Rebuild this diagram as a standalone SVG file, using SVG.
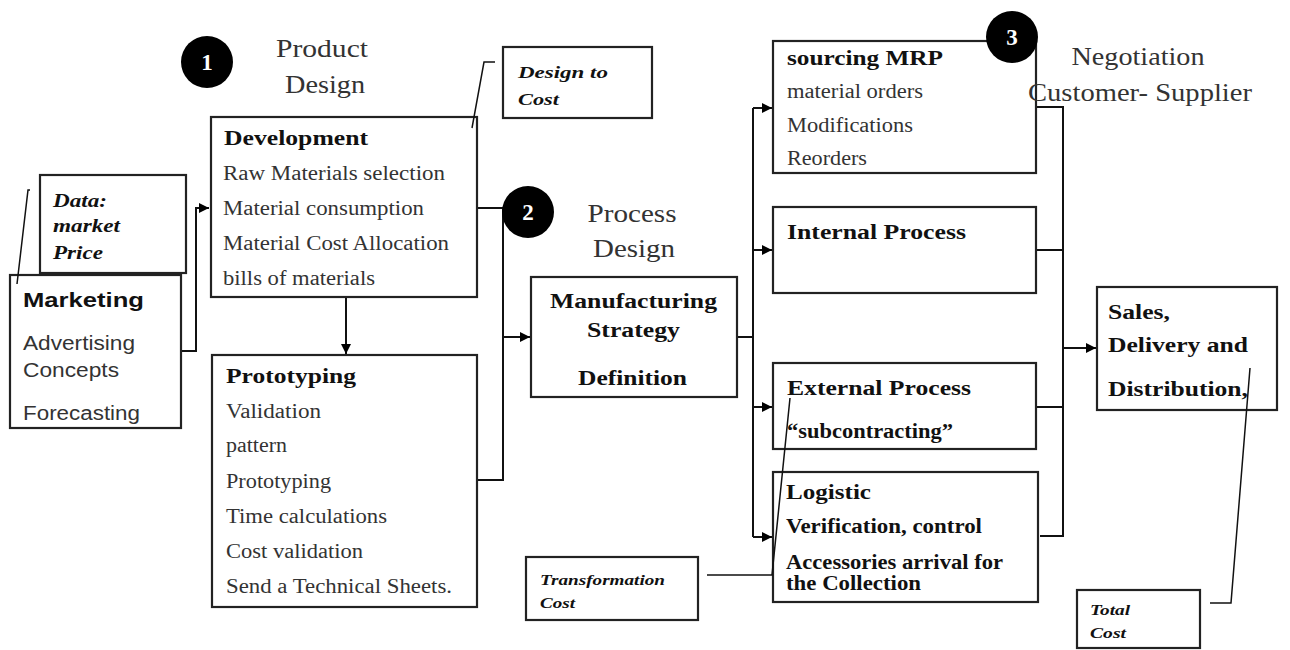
<svg xmlns="http://www.w3.org/2000/svg" width="1290" height="650" viewBox="0 0 1290 650">
<defs>
<marker id="ah" viewBox="0 0 10 10" refX="10" refY="5" markerWidth="5" markerHeight="5" orient="auto" markerUnits="strokeWidth"><path d="M0,0 L10,5 L0,10 z" fill="#000"/></marker>
<style>
.box{fill:#fff;stroke:#222;stroke-width:2.2}
.ln{fill:none;stroke:#111;stroke-width:2}
.cl{fill:none;stroke:#111;stroke-width:1.5}
.t{font-family:"Liberation Serif","Times New Roman",serif;font-size:20px;fill:#333}
.b{font-family:"Liberation Serif","Times New Roman",serif;font-size:20px;font-weight:bold;fill:#111}
.bi{font-family:"Liberation Serif","Times New Roman",serif;font-weight:bold;font-style:italic;fill:#111}
.h{font-family:"Liberation Serif","Times New Roman",serif;font-size:25px;fill:#333;text-anchor:middle}
.s{font-family:"Liberation Sans",Arial,sans-serif;font-size:20px;fill:#333}
.sb{font-family:"Liberation Sans",Arial,sans-serif;font-size:21px;font-weight:bold;fill:#111}
.num{font-family:"Liberation Serif","Times New Roman",serif;font-size:23px;font-weight:bold;fill:#fff;text-anchor:middle}
</style>
</defs>
<g id="connectors">
<polyline class="ln" points="182,351 196,351 196,208 209,208" marker-end="url(#ah)"/>
<line class="ln" x1="346" y1="297" x2="346" y2="354" marker-end="url(#ah)"/>
<polyline class="ln" points="477,208 503,208"/>
<polyline class="ln" points="477,480 503,480 503,208"/>
<line class="ln" x1="503" y1="337" x2="530" y2="337" marker-end="url(#ah)"/>
<polyline class="ln" points="737,337 753,337"/>
<line class="ln" x1="753" y1="108" x2="753" y2="537"/>
<line class="ln" x1="753" y1="108" x2="772" y2="108" marker-end="url(#ah)"/>
<line class="ln" x1="753" y1="250" x2="772" y2="250" marker-end="url(#ah)"/>
<line class="ln" x1="753" y1="407" x2="772" y2="407" marker-end="url(#ah)"/>
<line class="ln" x1="753" y1="537" x2="772" y2="537" marker-end="url(#ah)"/>
<polyline class="ln" points="1036,107 1063,107 1063,536 1040,536"/>
<line class="ln" x1="1036" y1="250" x2="1063" y2="250"/>
<line class="ln" x1="1036" y1="407" x2="1063" y2="407"/>
<line class="ln" x1="1063" y1="348" x2="1096" y2="348" marker-end="url(#ah)"/>
</g>
<g id="marketing">
<rect class="box" x="10" y="275" width="171" height="153"/>
<text class="sb" x="23" y="307" textLength="121" lengthAdjust="spacingAndGlyphs">Marketing</text>
<text class="s" x="23" y="350" textLength="112" lengthAdjust="spacingAndGlyphs">Advertising</text>
<text class="s" x="23" y="377" textLength="96" lengthAdjust="spacingAndGlyphs">Concepts</text>
<text class="s" x="23" y="420" textLength="117" lengthAdjust="spacingAndGlyphs">Forecasting</text>
</g>
<g id="data-market-price">
<rect class="box" x="40" y="175" width="146" height="98"/>
<text class="bi" font-size="18" x="53" y="207" textLength="54" lengthAdjust="spacingAndGlyphs">Data:</text>
<text class="bi" font-size="18" x="53" y="232" textLength="67" lengthAdjust="spacingAndGlyphs">market</text>
<text class="bi" font-size="18" x="53" y="259" textLength="50" lengthAdjust="spacingAndGlyphs">Price</text>
<polyline class="cl" points="30,190 28,190 17,284"/>
</g>
<g id="development">
<rect class="box" x="211" y="117" width="266" height="180"/>
<text class="b" x="224" y="145" textLength="144" lengthAdjust="spacingAndGlyphs">Development</text>
<text class="t" x="223" y="180" textLength="222" lengthAdjust="spacingAndGlyphs">Raw Materials selection</text>
<text class="t" x="223" y="215" textLength="201" lengthAdjust="spacingAndGlyphs">Material consumption</text>
<text class="t" x="223" y="250" textLength="226" lengthAdjust="spacingAndGlyphs">Material Cost Allocation</text>
<text class="t" x="223" y="285" textLength="152" lengthAdjust="spacingAndGlyphs">bills of materials</text>
</g>
<g id="product-design">
<circle cx="207" cy="62" r="26" fill="#000"/>
<text class="num" x="207" y="70">1</text>
<text class="h" x="322" y="57" textLength="92" lengthAdjust="spacingAndGlyphs">Product</text>
<text class="h" x="325" y="93" textLength="80" lengthAdjust="spacingAndGlyphs">Design</text>
</g>
<g id="design-to-cost">
<rect class="box" x="503" y="47" width="149" height="71"/>
<text class="bi" font-size="17" x="518" y="78" textLength="90" lengthAdjust="spacingAndGlyphs">Design to</text>
<text class="bi" font-size="17" x="518" y="105" textLength="41" lengthAdjust="spacingAndGlyphs">Cost</text>
<polyline class="cl" points="495,62 484,62 472,128"/>
</g>
<g id="prototyping">
<rect class="box" x="212" y="355" width="265" height="252"/>
<text class="b" x="226" y="383" textLength="130" lengthAdjust="spacingAndGlyphs">Prototyping</text>
<text class="t" x="226" y="418" textLength="95" lengthAdjust="spacingAndGlyphs">Validation</text>
<text class="t" x="226" y="452" textLength="61" lengthAdjust="spacingAndGlyphs">pattern</text>
<text class="t" x="226" y="488" textLength="105" lengthAdjust="spacingAndGlyphs">Prototyping</text>
<text class="t" x="226" y="523" textLength="161" lengthAdjust="spacingAndGlyphs">Time calculations</text>
<text class="t" x="226" y="558" textLength="137" lengthAdjust="spacingAndGlyphs">Cost validation</text>
<text class="t" x="226" y="593" textLength="226" lengthAdjust="spacingAndGlyphs">Send a Technical Sheets.</text>
</g>
<g id="process-design">
<circle cx="528" cy="212" r="26" fill="#000"/>
<text class="num" x="528" y="220">2</text>
<text class="h" x="632" y="222" textLength="89" lengthAdjust="spacingAndGlyphs">Process</text>
<text class="h" x="634" y="257" textLength="82" lengthAdjust="spacingAndGlyphs">Design</text>
</g>
<g id="manufacturing">
<rect class="box" x="531" y="277" width="206" height="120"/>
<text class="b" x="550" y="308" textLength="167" lengthAdjust="spacingAndGlyphs">Manufacturing</text>
<text class="b" x="587" y="337" textLength="93" lengthAdjust="spacingAndGlyphs">Strategy</text>
<text class="b" x="578" y="385" textLength="109" lengthAdjust="spacingAndGlyphs">Definition</text>
</g>
<g id="sourcing-mrp">
<rect class="box" x="773" y="41" width="263" height="132"/>
<text class="b" x="787" y="65" textLength="156" lengthAdjust="spacingAndGlyphs">sourcing MRP</text>
<text class="t" x="787" y="98" textLength="136" lengthAdjust="spacingAndGlyphs">material orders</text>
<text class="t" x="787" y="132" textLength="126" lengthAdjust="spacingAndGlyphs">Modifications</text>
<text class="t" x="787" y="165" textLength="80" lengthAdjust="spacingAndGlyphs">Reorders</text>
</g>
<g id="negotiation">
<circle cx="1012" cy="37" r="26" fill="#000"/>
<text class="num" x="1012" y="45">3</text>
<text class="h" x="1138" y="65" textLength="133" lengthAdjust="spacingAndGlyphs">Negotiation</text>
<text class="h" x="1140" y="101" textLength="224" lengthAdjust="spacingAndGlyphs">Customer- Supplier</text>
</g>
<g id="internal-process">
<rect class="box" x="773" y="207" width="263" height="86"/>
<text class="b" x="787" y="239" textLength="179" lengthAdjust="spacingAndGlyphs">Internal Process</text>
</g>
<g id="external-process">
<rect class="box" x="773" y="363" width="263" height="86"/>
<text class="b" x="787" y="395" textLength="184" lengthAdjust="spacingAndGlyphs">External Process</text>
<text class="b" x="787" y="438" textLength="166" lengthAdjust="spacingAndGlyphs">“subcontracting”</text>
</g>
<g id="logistic">
<rect class="box" x="773" y="472" width="265" height="130"/>
<text class="b" x="786" y="499" textLength="85" lengthAdjust="spacingAndGlyphs">Logistic</text>
<text class="b" x="786" y="533" font-size="19" textLength="196" lengthAdjust="spacingAndGlyphs">Verification, control</text>
<text class="b" x="786" y="569" font-size="19" textLength="217" lengthAdjust="spacingAndGlyphs">Accessories arrival for</text>
<text class="b" x="786" y="590" font-size="19" textLength="135" lengthAdjust="spacingAndGlyphs">the Collection</text>
</g>
<g id="sales">
<rect class="box" x="1097" y="287" width="180" height="123"/>
<text class="b" x="1108" y="319" textLength="62" lengthAdjust="spacingAndGlyphs">Sales,</text>
<text class="b" x="1108" y="352" textLength="140" lengthAdjust="spacingAndGlyphs">Delivery and</text>
<text class="b" x="1108" y="396" textLength="140" lengthAdjust="spacingAndGlyphs">Distribution,</text>
</g>
<g id="transformation-cost">
<rect class="box" x="526" y="557" width="172" height="63"/>
<text class="bi" font-size="15" x="540" y="585" textLength="125" lengthAdjust="spacingAndGlyphs">Transformation</text>
<text class="bi" font-size="15" x="540" y="608" textLength="35" lengthAdjust="spacingAndGlyphs">Cost</text>
<polyline class="cl" points="707,575 772,575 790,398"/>
</g>
<g id="total-cost">
<rect class="box" x="1077" y="590" width="123" height="58"/>
<text class="bi" font-size="15" x="1090" y="615" textLength="40" lengthAdjust="spacingAndGlyphs">Total</text>
<text class="bi" font-size="15" x="1090" y="638" textLength="36" lengthAdjust="spacingAndGlyphs">Cost</text>
<polyline class="cl" points="1210,603 1231,603 1250,368"/>
</g>
</svg>
